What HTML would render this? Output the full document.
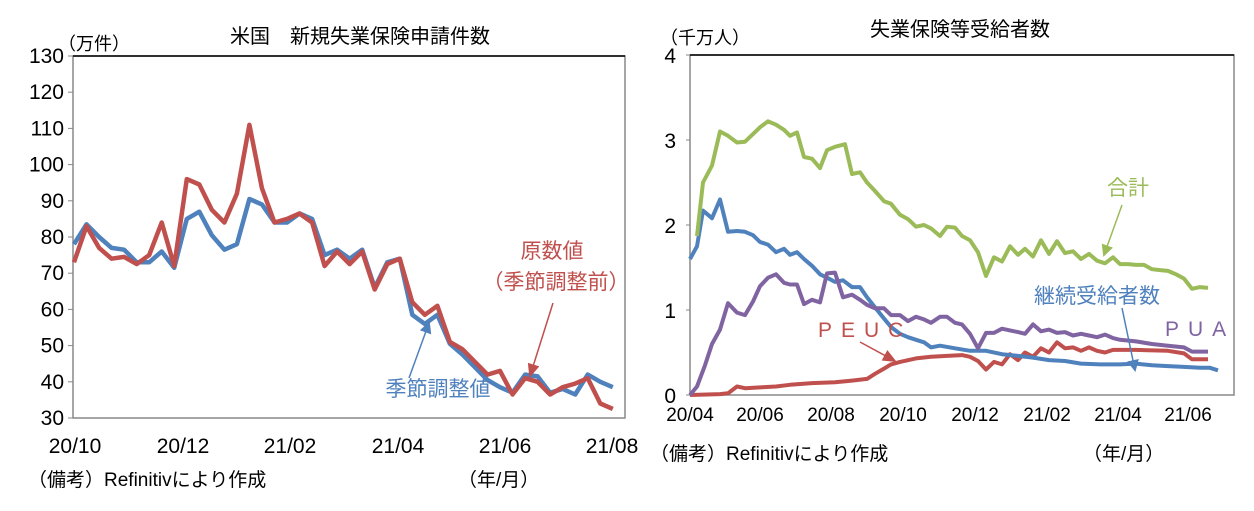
<!DOCTYPE html>
<html><head><meta charset="utf-8"><style>
body{margin:0;background:#fff}
svg text{font-family:"Liberation Sans Narrow","Liberation Sans","Noto Sans CJK JP",sans-serif;fill:#000}
.j{font-family:"Liberation Sans","Noto Sans CJK JP",sans-serif}
</style></head><body>
<svg id="s" width="1254" height="506" viewBox="0 0 1254 506" xmlns="http://www.w3.org/2000/svg">
<defs>
<marker id="ab" markerWidth="12" markerHeight="12" refX="10" refY="6" orient="auto" markerUnits="userSpaceOnUse"><path d="M0,0 L12,6 L0,12 z" fill="#4F81BD"/></marker>
<marker id="ag" markerWidth="12" markerHeight="12" refX="10" refY="6" orient="auto" markerUnits="userSpaceOnUse"><path d="M0,0 L12,6 L0,12 z" fill="#9BBB59"/></marker>
<marker id="ar2" markerWidth="14" markerHeight="12" refX="12" refY="6" orient="auto" markerUnits="userSpaceOnUse"><path d="M0,0 L14,6 L0,12 z" fill="#C0504D"/></marker>
</defs>
<!-- left chart -->
<rect x="73" y="56" width="552" height="362" fill="none" stroke="#888" stroke-width="1.5"/>
<line x1="73" y1="56" x2="625" y2="56" stroke="#000" stroke-width="1.5"/>
<g id="lt" font-size="21" text-anchor="end"></g>
<text class="j" x="360" y="43" font-size="20" text-anchor="middle">米国　新規失業保険申請件数</text>
<text class="j" x="58" y="50" font-size="18">（万件）</text>
<g font-size="21" text-anchor="middle">
<text x="75" y="453">20/10</text><text x="183" y="453">20/12</text><text x="290" y="453">21/02</text><text x="398" y="453">21/04</text><text x="505" y="453">21/06</text><text x="612" y="453">21/08</text>
</g>
<text class="j" x="28" y="486" font-size="19">（備考）Refinitivにより作成</text>
<text class="j" x="458" y="486" font-size="19">（年/月）</text>
<g id="lp"></g>
<text class="j" x="552" y="258" font-size="21" style="fill:#C0504D" text-anchor="middle">原数値</text>
<text class="j" x="556" y="289" font-size="21" style="fill:#C0504D" text-anchor="middle">（季節調整前）</text>
<line x1="553" y1="303" x2="530" y2="376" stroke="#C0504D" stroke-width="1.5" marker-end="url(#ar2)"/>
<text class="j" x="438" y="396" font-size="21" style="fill:#4F81BD" text-anchor="middle">季節調整値</text>
<line x1="409" y1="378" x2="429" y2="323" stroke="#4F81BD" stroke-width="1.5" marker-end="url(#ab)"/>

<!-- right chart -->
<rect x="690" y="55" width="544" height="340" fill="none" stroke="#888" stroke-width="1.5"/>
<line x1="690" y1="55" x2="1234" y2="55" stroke="#000" stroke-width="1.5"/>
<g id="rt" font-size="21" text-anchor="end"></g>
<text class="j" x="960" y="36" font-size="20" text-anchor="middle">失業保険等受給者数</text>
<text class="j" x="660" y="44" font-size="18">（千万人）</text>
<g font-size="19" text-anchor="middle">
<text x="690" y="421">20/04</text><text x="760" y="421">20/06</text><text x="831" y="421">20/08</text><text x="903" y="421">20/10</text><text x="975" y="421">20/12</text><text x="1047" y="421">21/02</text><text x="1118" y="421">21/04</text><text x="1188" y="421">21/06</text>
</g>
<text class="j" x="650" y="460" font-size="19">（備考）Refinitivにより作成</text>
<text class="j" x="1083" y="460" font-size="19">（年/月）</text>
<g id="rp"></g>
<text class="j" x="1128" y="195" font-size="21" style="fill:#9BBB59" text-anchor="middle">合計</text>
<line x1="1122" y1="205" x2="1104" y2="255" stroke="#9BBB59" stroke-width="1.5" marker-end="url(#ag)"/>
<text class="j" x="1097" y="303" font-size="21" style="fill:#4F81BD" text-anchor="middle">継続受給者数</text>
<line x1="1122" y1="308" x2="1135" y2="370" stroke="#4F81BD" stroke-width="1.5" marker-end="url(#ab)"/>
<text x="1165" y="336" font-size="21" style="fill:#8064A2" letter-spacing="9" class="j">PUA</text>
<text x="818" y="337" font-size="21" style="fill:#C0504D" letter-spacing="9" class="j">PEUC</text>
<line x1="860" y1="342" x2="895" y2="361" stroke="#C0504D" stroke-width="1.5" marker-end="url(#ar2)"/>
</svg>
<script>
var NS="http://www.w3.org/2000/svg";
function el(p,t,a,txt){var e=document.createElementNS(NS,t);for(var k in a)e.setAttribute(k,a[k]);if(txt!=null)e.textContent=txt;document.getElementById(p).appendChild(e);}
for(var v=30;v<=130;v+=10){var y=418-(v-30)*3.62;el("lt","text",{x:64,y:y+7},v);el("lt","line",{x1:68,x2:73,y1:y,y2:y,stroke:"#888"});}
for(var v=0;v<=4;v++){var y=395-v*85;el("rt","text",{x:676,y:y+8},v);el("rt","line",{x1:686,x2:690,y1:y,y2:y,stroke:"#888"});}
function lpl(arr,c){var p=arr.map(function(v,i){return (74+i*12.53).toFixed(1)+","+(418-(v-30)*3.62).toFixed(1)}).join(" ");el("lp","polyline",{points:p,fill:"none",stroke:c,"stroke-width":4.5,"stroke-linejoin":"round"});}
lpl([78,83.5,80,77,76.5,73,73,76,71.5,85,87,80.5,76.5,78,90.5,89,84,84,86.5,85,75,76.5,74,76.5,66,73,74,58.5,56,58.5,50.5,47.5,44,40.5,38.5,37,42,41.5,37,38,36.5,42,40,38.5],"#4F81BD");
lpl([73,83,77,74,74.5,72.5,75,84,72,96,94.5,87.5,84,92,111,93.5,84,85,86.5,84,72,76,72.5,76,65.5,72.5,74,62,58.5,61,51,49,45.5,42,43,36.5,41,40,36.5,38.5,39.5,41,34,32.5],"#C0504D");
function rpl(arr,c){var p="";for(var i=0;i<arr.length;i+=2)p+=arr[i]+","+(395-arr[i+1]*85).toFixed(1)+" ";el("rp","polyline",{points:p,fill:"none",stroke:c,"stroke-width":4,"stroke-linejoin":"round"});}
rpl([690,0,720,0.01,728,0.02,737,0.1,745,0.08,760,0.09,776,0.1,790,0.12,812,0.14,835,0.15,852,0.17,867,0.19,875,0.25,884,0.31,891,0.36,900,0.39,916,0.43,931,0.45,947,0.46,962,0.47,970,0.45,978,0.4,986,0.3,994,0.39,1002,0.36,1010,0.48,1018,0.41,1025,0.5,1033,0.45,1041,0.55,1049,0.5,1057,0.62,1065,0.55,1073,0.56,1081,0.52,1089,0.56,1097,0.52,1105,0.5,1113,0.53,1136,0.53,1168,0.52,1184,0.49,1192,0.42,1208,0.42],"#C0504D");
rpl([690,1.6,697,1.75,703,2.17,712,2.08,720,2.3,728,1.92,737,1.93,745,1.92,753,1.88,760,1.8,768,1.77,776,1.68,784,1.72,790,1.65,797,1.68,804,1.6,812,1.52,820,1.42,827,1.38,835,1.33,843,1.35,852,1.27,860,1.27,867,1.15,875,1.03,884,0.9,891,0.8,900,0.72,908,0.68,916,0.65,924,0.62,931,0.56,940,0.58,955,0.55,970,0.52,986,0.52,1002,0.48,1018,0.46,1033,0.44,1049,0.41,1065,0.4,1081,0.37,1100,0.36,1120,0.36,1136,0.37,1152,0.35,1168,0.34,1184,0.33,1200,0.32,1210,0.32,1218,0.29],"#4F81BD");
rpl([690,0,697,0.1,705,0.35,712,0.6,720,0.77,728,1.08,737,0.97,745,0.94,753,1.1,760,1.28,768,1.38,776,1.42,784,1.32,790,1.3,797,1.3,804,1.07,812,1.12,820,1.09,827,1.43,835,1.44,843,1.15,852,1.18,860,1.12,867,1.06,875,1.02,884,1.02,891,0.94,900,0.94,908,0.87,916,0.92,924,0.89,931,0.85,940,0.92,947,0.92,955,0.85,962,0.83,970,0.72,978,0.55,986,0.73,994,0.73,1002,0.78,1010,0.76,1018,0.74,1025,0.72,1033,0.83,1041,0.75,1049,0.77,1057,0.73,1065,0.74,1073,0.7,1081,0.72,1089,0.7,1097,0.68,1105,0.71,1113,0.67,1120,0.65,1136,0.63,1152,0.6,1168,0.58,1184,0.56,1192,0.51,1208,0.51],"#8064A2");
rpl([697,1.87,703,2.5,712,2.7,720,3.1,728,3.05,737,2.97,745,2.98,753,3.07,760,3.15,768,3.22,776,3.18,784,3.12,790,3.05,797,3.09,804,2.8,812,2.78,820,2.67,827,2.88,835,2.92,845,2.95,852,2.6,860,2.62,867,2.5,875,2.4,884,2.28,891,2.25,900,2.12,908,2.07,916,1.98,924,2.0,931,1.96,940,1.87,947,1.98,955,1.97,962,1.87,970,1.82,978,1.68,986,1.4,994,1.62,1002,1.57,1010,1.75,1018,1.65,1025,1.72,1033,1.63,1041,1.82,1049,1.66,1057,1.81,1065,1.67,1073,1.69,1081,1.6,1089,1.66,1097,1.58,1105,1.55,1113,1.62,1120,1.54,1128,1.54,1136,1.53,1144,1.53,1152,1.48,1160,1.47,1168,1.46,1176,1.42,1184,1.37,1192,1.25,1200,1.27,1208,1.26],"#9BBB59");
</script>
</body></html>
